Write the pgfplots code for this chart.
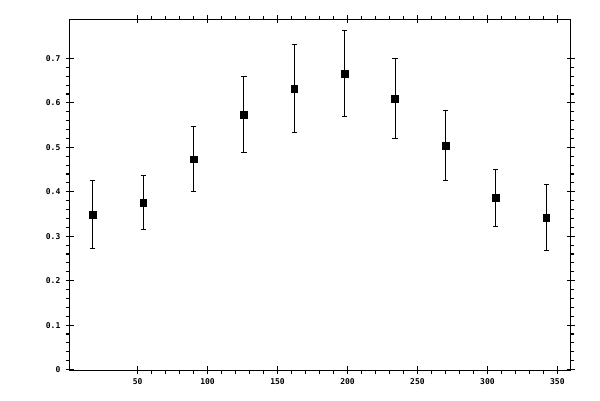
\documentclass[border=0pt]{standalone}
\usepackage{pgfplots}
\pgfplotsset{compat=1.18}
\usepackage{fontspec}
\setmonofont{DejaVu Sans Mono}

\pgfplotstableread{
x    y      err
18   0.349  0.076
54   0.376  0.061
90   0.473  0.073
126  0.574  0.086
162  0.632  0.099
198  0.666  0.097
234  0.610  0.091
270  0.504  0.079
306  0.387  0.064
342  0.342  0.075
}\means

\begin{document}
\begin{tikzpicture}
  \useasboundingbox (-52.3pt,-22.5pt) rectangle (397.75pt,277.75pt);
  \begin{axis}[
      at={(0,0)}, anchor=south west,
      scale only axis,
      width=375.75pt, height=263.25pt,
      xmin=1.5, xmax=359.5,
      ymin=-0.0016, ymax=0.788,
      xtick={50,100,...,350},
      ytick={0,0.1,...,0.7},
      minor x tick num=4,
      minor y tick num=4,
      tick align=outside,
      major tick length=3pt,
      minor tick length=2.5pt,
      extra x ticks={50,100,...,350},
      extra y ticks={0,0.1,...,0.7},
      extra x tick labels={},
      extra y tick labels={},
      extra tick style={tick align=inside, major tick length=3pt},
      axis line style={line width=0.9pt},
      tick style={line width=0.8pt, black},
      tick label style={font=\fontsize{6}{7}\selectfont\ttfamily\bfseries},
      /pgf/number format/assume math mode=true,
      xticklabel shift=0pt,
      yticklabel shift=0.5pt,
    ]
    \addplot[only marks, mark=square*, mark size=2.5pt, black,
      error bars/.cd, y dir=both, y explicit,
      error bar style={line width=0.75pt},
      error mark options={rotate=90, mark size=2pt, line width=0.75pt}]
      table[x=x, y=y, y error=err] {\means};
  \end{axis}
\end{tikzpicture}
\end{document}
